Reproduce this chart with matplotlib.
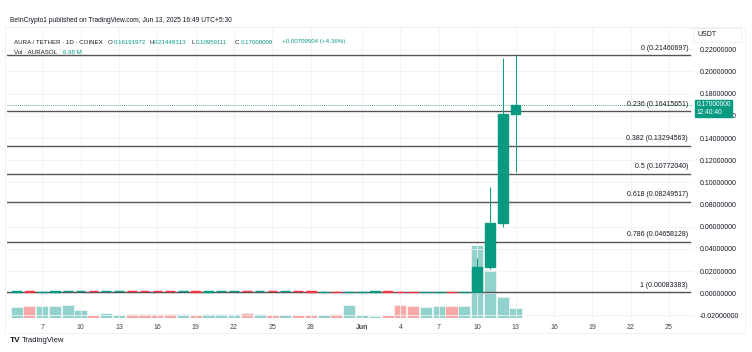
import datetime as dt
import matplotlib
matplotlib.use("Agg")
import matplotlib.pyplot as plt
import matplotlib.dates as mdates
import matplotlib.transforms as mtransforms
from matplotlib.patches import Rectangle
import numpy as np
import pandas as pd

plt.rcParams['font.family'] = ['Liberation Sans', 'DejaVu Sans']

# ---------------- data ----------------
dates = pd.date_range("2025-05-05", "2025-06-13", freq="D")

opens = [0.00150, 0.00160, 0.00150, 0.00158, 0.00165, 0.00185, 0.00200, 0.00185, 0.00195, 0.00198,
         0.00185, 0.00180, 0.00170, 0.00160, 0.00165, 0.00155, 0.00165, 0.00170, 0.00172, 0.00168,
         0.00175, 0.00165, 0.00170, 0.00160, 0.00150, 0.00158, 0.00148, 0.00155, 0.00158, 0.00162,
         0.00152, 0.00140, 0.00130, 0.00135, 0.00140, 0.00132, 0.00140, 0.0233, 0.0637, 0.16191972]
closes = [0.00160, 0.00150, 0.00158, 0.00165, 0.00185, 0.00200, 0.00185, 0.00195, 0.00198, 0.00185,
          0.00180, 0.00170, 0.00160, 0.00165, 0.00155, 0.00165, 0.00170, 0.00172, 0.00168, 0.00175,
          0.00165, 0.00170, 0.00160, 0.00150, 0.00158, 0.00148, 0.00155, 0.00158, 0.00162, 0.00152,
          0.00140, 0.00130, 0.00135, 0.00140, 0.00132, 0.00140, 0.0233, 0.0637, 0.1619, 0.17000000]
highs = [0.00175, 0.00170, 0.00172, 0.00180, 0.00200, 0.00215, 0.00205, 0.00210, 0.00215, 0.00200,
         0.00195, 0.00185, 0.00175, 0.00178, 0.00170, 0.00178, 0.00182, 0.00185, 0.00182, 0.00188,
         0.00180, 0.00182, 0.00175, 0.00165, 0.00170, 0.00162, 0.00168, 0.00170, 0.00175, 0.00165,
         0.00155, 0.00145, 0.00148, 0.00152, 0.00145, 0.00152, 0.0320, 0.0960, 0.2117, 0.21448313]
lows = [0.00140, 0.00140, 0.00145, 0.00150, 0.00160, 0.00175, 0.00175, 0.00180, 0.00185, 0.00175,
        0.00170, 0.00160, 0.00150, 0.00150, 0.00145, 0.00150, 0.00158, 0.00160, 0.00158, 0.00160,
        0.00155, 0.00160, 0.00150, 0.00140, 0.00145, 0.00138, 0.00140, 0.00145, 0.00150, 0.00140,
        0.00130, 0.00120, 0.00125, 0.00130, 0.00122, 0.00130, 0.00120, 0.0220, 0.0600, 0.10959111]
volume_m = [7.9, 8.2, 8.2, 8.6, 9.3, 5.8, 1.9, 3.7, 2.1, 2.6,
            3.0, 2.6, 2.6, 2.6, 1.9, 2.6, 2.8, 2.8, 3.3, 2.6,
            2.3, 2.3, 1.9, 2.1, 2.3, 2.6, 8.9, 1.9, 1.6, 2.3,
            8.9, 8.2, 7.7, 8.4, 8.2, 8.2, 51.0, 33.5, 14.7, 6.98]

fib_ratios = ["0", "0.236", "0.382", "0.5", "0.618", "0.786", "1"]
fib_levels = [0.21460697, 0.16415651, 0.13294563, 0.10772040, 0.08249517, 0.04658128, 0.00083383]

last_price = 0.17000000
price_ticks = [-0.02, 0.0, 0.02, 0.04, 0.06, 0.08, 0.10, 0.12, 0.14, 0.16, 0.18, 0.20, 0.22]
tick_dates = ["2025-05-07", "2025-05-10", "2025-05-13", "2025-05-16", "2025-05-19", "2025-05-22",
              "2025-05-25", "2025-05-28", "2025-06-01", "2025-06-04", "2025-06-07", "2025-06-10",
              "2025-06-13", "2025-06-16", "2025-06-19", "2025-06-22", "2025-06-25"]
tick_labels = ["7", "10", "13", "16", "19", "22", "25", "28", "Jun", "4", "7", "10",
               "13", "16", "19", "22", "25"]

UP = "#089981"
DOWN = "#f23645"
UP_VOL = "#92d2cc"
DOWN_VOL = "#f7a9a7"
TXT = "#131722"

# ---------------- figure ----------------
fig = plt.figure(figsize=(7.52, 3.52), dpi=100)
pos = [7 / 752, 34 / 352, 686 / 752, 291 / 352]

x = mdates.date2num(dates)
up = np.array(closes) >= np.array(opens)

# volume pane underneath
axv = fig.add_axes(pos)
axv.bar(x, volume_m, width=0.95, color=np.where(up, UP_VOL, DOWN_VOL),
        edgecolor="white", linewidth=0.4)
axv.set_ylim(0, 202)
axv.set_xlim(mdates.date2num(dt.datetime(2025, 5, 4, 6)), mdates.date2num(dt.datetime(2025, 6, 26, 21)))
axv.axis("off")

# price pane
ax = fig.add_axes(pos, sharex=axv)
ax.patch.set_alpha(0)
ax.set_ylim(-0.0223, 0.2401)
for s in ax.spines.values():
    s.set_visible(False)

ax.set_yticks(price_ticks)
ax.yaxis.tick_right()
ax.yaxis.set_major_formatter(matplotlib.ticker.FormatStrFormatter("%.8f"))
ax.tick_params(axis="y", length=0, pad=5, labelsize=5, labelcolor=TXT)
ax.set_xticks(mdates.date2num(pd.to_datetime(tick_dates)))
ax.set_xticklabels(tick_labels)
ax.tick_params(axis="x", length=0, pad=4, labelsize=5, labelcolor="#444")
for lbl in ax.get_xticklabels():
    if lbl.get_text() == "Jun":
        lbl.set_fontweight("bold")
ax.grid(True, color="#f0f1f4", linewidth=0.6, zorder=0)

# candles
colors = np.where(up, UP, DOWN)
ax.vlines(x, lows, highs, colors=colors, linewidth=0.7, zorder=3)
bottoms = np.minimum(opens, closes)
heights = np.abs(np.array(closes) - np.array(opens))
ax.bar(x, heights, bottom=bottoms, width=0.75, color=colors, edgecolor=colors,
       linewidth=1.0, zorder=4)

# fib levels
trans = mtransforms.blended_transform_factory(ax.transAxes, ax.transData)
for r, lv in zip(fib_ratios, fib_levels):
    ax.axhline(lv, xmin=0, xmax=0.996, color="#555555", linewidth=1.0, zorder=2)
    ax.annotate(f"{r} ({lv:.8f})", xy=(0.993, lv), xycoords=trans, xytext=(0, 2.5),
                textcoords="offset points", ha="right", va="bottom", fontsize=5, color=TXT)

# last price line + label
ax.axhline(last_price, color=UP, linewidth=0.6, linestyle=(0, (1, 1.5)), zorder=2)
ax.annotate("0.17000000\n12:40:40", xy=(1.0, last_price), xycoords=trans, xytext=(2.5, 2.6),
            textcoords="offset points", ha="left", va="top", fontsize=4.8, color="white",
            linespacing=1.15, annotation_clip=False, zorder=10,
            bbox=dict(boxstyle="square,pad=0.22", fc=UP, ec=UP))

# ---------------- header / footer ----------------
fig.text(10 / 752, 1 - 20 / 352, "BeInCrypto1 published on TradingView.com, Jun 13, 2025 16:49 UTC+5:30",
         fontsize=4.8, color=TXT, va="center")
ly = 1 - 42 / 352
fig.text(14 / 752, ly, "AURA / TETHER · 1D · COINEX", fontsize=4.4, color=TXT, va="center")
for xp, t, c in [(108, "O", TXT), (113.5, "0.16191972", UP), (149, "H", TXT), (154, "0.21448313", UP),
                 (191, "L", TXT), (195.5, "0.10959111", UP), (235, "C", TXT), (240.5, "0.17000000", UP),
                 (282, "+0.00709504 (+4.36%)", UP)]:
    fig.text(xp / 752, ly, t, fontsize=4.4, color=c, va="center")
ly2 = 1 - 53 / 352
fig.text(14 / 752, ly2, "Vol · AURASOL", fontsize=4.4, color=TXT, va="center")
fig.text(63 / 752, ly2, "6.98 M", fontsize=4.4, color=UP, va="center")

fig.text(697 / 752, 1 - 35 / 352, "USDT", fontsize=5, color=TXT, va="center")
fig.patches.append(Rectangle((693 / 752, 1 - 42 / 352), 48 / 752, 14 / 352, transform=fig.transFigure,
                             fill=False, ec="#eceef2", lw=0.6))
fig.patches.append(Rectangle((5 / 752, 1 - 333 / 352), 740 / 752, 306 / 352, transform=fig.transFigure,
                             fill=False, ec="#eceef2", lw=0.6))

fig.text(10 / 752, 1 - 340 / 352, "TV", fontsize=6, fontweight="bold", color=TXT, va="center")
fig.text(22 / 752, 1 - 340 / 352, "TradingView", fontsize=5.5, color=TXT, va="center")

fig.savefig("out.png", dpi=100, facecolor="white")
